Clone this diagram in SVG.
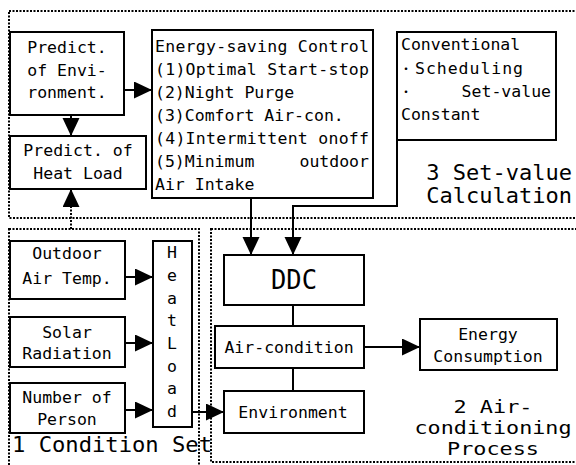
<svg xmlns="http://www.w3.org/2000/svg" width="576" height="465" viewBox="0 0 576 465">
  <style>
    .bg { fill: #ffffff; }
    .box { fill: #ffffff; stroke: #000; stroke-width: 2; }
    .zone { fill: none; stroke: #000; stroke-width: 2; stroke-dasharray: 2 1.5; }
    .link { fill: none; stroke: #000; stroke-width: 2; }
    .dot { fill: none; stroke: #000; stroke-width: 2; stroke-dasharray: 2 1.5; }
    text { font-family: "DejaVu Sans Mono", "Liberation Mono", "Noto Sans CJK JP", monospace; font-size: 16.5px; fill: #000; }
    .c { text-anchor: middle; }
    .e { text-anchor: end; }
    .big { font-size: 22px; }
    .mid { font-size: 18px; }
  </style>
  <defs>
    <marker id="arr" markerUnits="userSpaceOnUse" markerWidth="19" markerHeight="18" refX="18" refY="8.5" orient="auto">
      <path d="M0,0 L18,8.5 L0,17 Z" fill="#000"/>
    </marker>
  </defs>

  <rect class="bg" x="0" y="0" width="576" height="465"/>

  <!-- zones -->
  <g id="zones">
    <rect class="zone" x="9" y="11" width="575" height="207"/>
    <rect class="zone" x="9" y="229" width="190" height="250"/>
    <rect class="zone" x="211" y="229" width="375" height="233"/>
    <text class="big e" x="572" y="180">3 Set-value</text>
    <text class="big e" x="572" y="203">Calculation</text>
    <text class="big" x="12" y="452" textLength="200" lengthAdjust="spacingAndGlyphs">1 Condition Set</text>
    <text class="mid c" x="493" y="413" textLength="79" lengthAdjust="spacingAndGlyphs">2 Air-</text>
    <text class="mid c" x="493" y="434" textLength="157" lengthAdjust="spacingAndGlyphs">conditioning</text>
    <text class="mid c" x="493" y="455" textLength="92" lengthAdjust="spacingAndGlyphs">Process</text>
  </g>

  <!-- connectors -->
  <g id="connectors">
    <line class="link" x1="124" y1="90" x2="152" y2="90" marker-end="url(#arr)"/>
    <line class="link" x1="71" y1="115" x2="71" y2="136" marker-end="url(#arr)"/>
    <line class="dot" x1="71" y1="229" x2="71" y2="205"/>
    <line class="link" x1="71" y1="206" x2="71" y2="189" marker-end="url(#arr)"/>
    <line class="link" x1="125" y1="277" x2="153" y2="277" marker-end="url(#arr)"/>
    <line class="link" x1="125" y1="343" x2="153" y2="343" marker-end="url(#arr)"/>
    <line class="link" x1="125" y1="410" x2="153" y2="410" marker-end="url(#arr)"/>
    <line class="link" x1="183" y1="412" x2="224" y2="412" marker-end="url(#arr)"/>
    <line class="link" x1="251" y1="198" x2="251" y2="255" marker-end="url(#arr)"/>
    <polyline class="link" points="397,140 397,206 293,206 293,255" marker-end="url(#arr)"/>
    <line class="link" x1="293" y1="305" x2="293" y2="326"/>
    <line class="link" x1="293" y1="368" x2="293" y2="391"/>
    <line class="link" x1="364" y1="347" x2="420" y2="347" marker-end="url(#arr)"/>
  </g>

  <!-- prediction -->
  <g id="predict-env">
    <rect class="box" x="10" y="32" width="114" height="83"/>
    <text class="c" x="67" y="53">Predict.</text>
    <text class="c" x="67" y="76">of Envi-</text>
    <text class="c" x="67" y="98">ronment.</text>
  </g>
  <g id="predict-load">
    <rect class="box" x="10" y="136" width="136" height="53"/>
    <text class="c" x="78" y="156">Predict. of</text>
    <text class="c" x="78" y="179">Heat Load</text>
  </g>

  <!-- set-value calculation -->
  <g id="energy-saving">
    <rect class="box" x="152" y="30" width="221" height="168"/>
    <text x="155" y="52" textLength="214">Energy-saving Control</text>
    <text x="155" y="75" textLength="214">(1)Optimal Start-stop</text>
    <text x="155" y="98">(2)Night Purge</text>
    <text x="155" y="121">(3)Comfort Air-con.</text>
    <text x="155" y="144" textLength="214">(4)Intermittent onoff</text>
    <text x="155" y="167">(5)Minimum</text>
    <text class="e" x="369" y="167">outdoor</text>
    <text x="155" y="190">Air Intake</text>
  </g>
  <g id="conventional">
    <rect class="box" x="397" y="32" width="159" height="108"/>
    <text x="401" y="50">Conventional</text>
    <text class="c" x="406" y="74" style="font-size:12px">・</text>
    <text x="415" y="74" textLength="108">Scheduling</text>
    <text class="c" x="406" y="97" style="font-size:12px">・</text>
    <text class="e" x="551" y="97">Set-value</text>
    <text x="401" y="120">Constant</text>
  </g>

  <!-- conditions -->
  <g id="outdoor-temp">
    <rect class="box" x="10" y="241" width="115" height="58"/>
    <text class="c" x="67" y="259">Outdoor</text>
    <text class="c" x="67" y="284">Air Temp.</text>
  </g>
  <g id="solar">
    <rect class="box" x="10" y="317" width="115" height="50"/>
    <text class="c" x="67" y="338">Solar</text>
    <text class="c" x="67" y="359">Radiation</text>
  </g>
  <g id="persons">
    <rect class="box" x="10" y="383" width="115" height="50"/>
    <text class="c" x="67" y="403">Number of</text>
    <text class="c" x="67" y="425">Person</text>
  </g>
  <g id="heat-load">
    <rect class="box" x="153" y="241" width="39" height="186"/>
    <text class="c" x="172" y="258">H</text>
    <text class="c" x="172" y="281">e</text>
    <text class="c" x="172" y="304">a</text>
    <text class="c" x="172" y="326">t</text>
    <text class="c" x="172" y="349">L</text>
    <text class="c" x="172" y="372">o</text>
    <text class="c" x="172" y="394">a</text>
    <text class="c" x="172" y="417">d</text>
  </g>

  <!-- air-conditioning process -->
  <g id="ddc">
    <rect class="box" x="224" y="255" width="140" height="50"/>
    <text class="c" x="294" y="289" style="font-size:26px" textLength="46" lengthAdjust="spacingAndGlyphs">DDC</text>
  </g>
  <g id="air-condition">
    <rect class="box" x="215" y="326" width="149" height="42"/>
    <text class="c" x="289" y="353">Air-condition</text>
  </g>
  <g id="environment">
    <rect class="box" x="224" y="391" width="140" height="42"/>
    <text class="c" x="293" y="418">Environment</text>
  </g>
  <g id="energy-consumption">
    <rect class="box" x="420" y="319" width="137" height="51"/>
    <text class="c" x="488" y="340">Energy</text>
    <text class="c" x="488" y="362">Consumption</text>
  </g>
</svg>
